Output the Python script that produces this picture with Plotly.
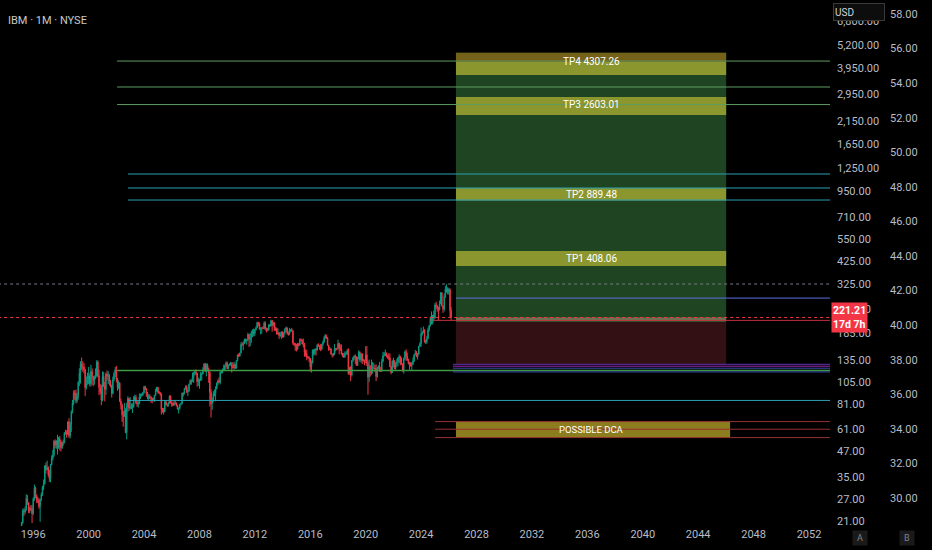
import numpy as np
import pandas as pd
import plotly.graph_objects as go

# IBM monthly candles, Jan 1995 .. Mar 2026 (split adjusted)
close = [
    18.2, 18.8, 20.6, 23.6, 23.3, 24.0, 27.2, 25.9, 23.6, 24.3, 24.2, 22.9,
    27.1, 30.7, 27.8, 27.0, 26.6, 24.8, 26.9, 28.5, 31.1, 32.3, 39.8, 37.9,
    39.0, 35.8, 34.3, 40.2, 43.4, 45.1, 52.8, 50.5, 53.0, 49.0, 54.6, 52.3,
    49.1, 52.1, 51.9, 57.9, 58.6, 57.4, 66.2, 56.3, 64.0, 74.4, 82.4, 92.2,
    91.6, 84.4, 88.7, 104.6, 116.0, 129.3, 124.9, 124.6, 121.0, 98.3, 102.9, 107.9,
    112.3, 102.8, 118.4, 111.5, 107.3, 109.6, 112.3, 132.0, 112.6, 98.5, 93.5, 85.0,
    112.0, 100.0, 96.2, 115.1, 111.8, 113.0, 105.2, 100.0, 91.7, 108.1, 115.6, 121.0,
    107.9, 98.1, 104.0, 83.8, 80.5, 72.0, 70.4, 75.4, 58.3, 79.0, 86.9, 77.5,
    78.2, 78.0, 78.4, 84.9, 88.0, 82.5, 81.3, 82.0, 88.3, 89.5, 90.5, 92.7,
    99.2, 96.5, 91.8, 88.2, 88.6, 88.2, 87.1, 84.7, 85.7, 89.8, 94.2, 98.6,
    93.4, 92.6, 91.4, 76.4, 75.6, 74.2, 83.5, 80.6, 80.2, 81.9, 88.9, 82.2,
    81.3, 80.2, 82.5, 82.3, 79.9, 76.8, 77.4, 81.0, 81.9, 92.3, 91.9, 97.2,
    99.2, 93.1, 94.3, 102.2, 106.6, 105.3, 110.7, 116.7, 117.8, 116.1, 105.2, 108.1,
    107.1, 113.9, 115.1, 120.7, 129.4, 118.5, 128.0, 121.7, 117.0, 93.0, 81.6, 84.2,
    91.7, 92.0, 96.9, 103.2, 106.3, 104.4, 117.9, 118.1, 119.6, 120.6, 126.4, 130.9,
    122.4, 127.2, 128.3, 129.0, 125.3, 123.5, 128.4, 123.1, 134.1, 143.6, 141.5, 146.8,
    162.0, 161.9, 163.1, 170.6, 168.9, 171.6, 181.9, 171.9, 174.9, 184.6, 188.0, 183.9,
    192.6, 196.7, 208.7, 207.1, 192.9, 195.6, 196.0, 195.0, 207.5, 194.5, 190.1, 191.6,
    203.1, 200.8, 213.3, 202.5, 208.0, 191.1, 195.0, 182.3, 185.2, 179.2, 179.7, 187.6,
    176.7, 185.2, 192.5, 196.5, 184.4, 181.3, 191.7, 192.3, 189.8, 164.4, 162.2, 160.4,
    153.3, 161.9, 160.5, 171.3, 169.7, 162.7, 162.0, 147.9, 145.0, 140.1, 139.4, 137.6,
    124.8, 131.0, 151.5, 145.9, 153.7, 151.8, 160.6, 158.9, 158.9, 153.7, 162.2, 166.0,
    174.5, 179.8, 174.1, 160.3, 152.6, 153.8, 144.7, 143.0, 145.1, 154.1, 153.9, 153.4,
    163.7, 155.8, 153.4, 145.0, 141.3, 139.7, 144.9, 146.5, 151.2, 115.4, 124.3, 113.7,
    134.4, 139.2, 141.1, 140.3, 127.0, 137.9, 148.2, 135.5, 145.4, 133.7, 134.5, 134.0,
    143.7, 130.2, 110.9, 125.6, 124.9, 120.8, 122.9, 123.3, 121.7, 111.7, 123.5, 125.9,
    119.1, 118.9, 133.3, 141.9, 143.7, 146.6, 141.0, 140.3, 138.9, 125.1, 117.1, 133.7,
    133.6, 122.5, 130.0, 132.2, 138.8, 141.2, 130.8, 128.5, 118.8, 138.3, 148.9, 140.9,
    134.7, 129.3, 131.1, 126.4, 128.6, 133.8, 144.2, 146.8, 140.3, 144.6, 158.6, 163.6,
    183.7, 185.0, 191.0, 166.2, 166.9, 173.0, 192.1, 202.1, 221.1, 208.9, 227.4, 219.8,
    255.7, 252.4, 248.7, 241.8, 259.1, 294.8, 253.2, 243.5, 282.2, 307.4, 308.6, 296.2,
    306.0, 240.0, 221.21,
]
high = [
    18.9, 19.2, 20.8, 24.2, 24.3, 24.8, 28.6, 28.3, 26.0, 24.8, 25.2, 25.3,
    27.6, 32.0, 31.2, 28.5, 27.8, 27.3, 27.2, 29.2, 31.5, 33.9, 40.0, 41.3,
    42.2, 39.5, 37.9, 40.6, 44.8, 47.8, 53.5, 54.0, 53.5, 56.9, 55.6, 56.1,
    53.6, 52.6, 53.9, 58.7, 60.3, 60.0, 66.6, 68.9, 66.0, 75.5, 85.1, 95.0,
    95.6, 96.0, 92.6, 105.6, 122.9, 133.2, 139.2, 133.6, 130.5, 122.1, 111.9, 117.0,
    124.8, 115.8, 128.0, 122.8, 112.6, 113.3, 122.8, 134.9, 134.6, 121.2, 102.7, 101.4,
    118.6, 117.8, 105.1, 117.0, 119.9, 118.6, 115.0, 107.4, 101.5, 111.8, 118.4, 124.7,
    126.4, 110.0, 106.7, 104.2, 86.4, 81.6, 74.9, 82.4, 77.3, 82.4, 88.9, 87.2,
    88.0, 81.9, 81.8, 88.9, 90.4, 90.4, 84.4, 84.1, 91.9, 91.7, 92.0, 93.6,
    100.4, 100.4, 97.8, 93.4, 90.9, 91.0, 89.0, 87.0, 87.5, 90.0, 97.2, 99.1,
    99.1, 94.6, 93.4, 91.8, 77.7, 77.7, 85.1, 84.2, 81.8, 83.3, 89.9, 89.9,
    84.2, 82.8, 84.5, 85.0, 82.7, 80.5, 78.0, 81.3, 82.5, 92.7, 93.0, 97.9,
    100.9, 100.9, 95.8, 102.9, 108.1, 108.0, 117.0, 117.4, 119.6, 121.5, 116.4, 110.5,
    108.1, 117.7, 117.0, 124.5, 130.2, 130.9, 130.0, 129.9, 124.0, 118.3, 96.6, 87.9,
    94.4, 96.0, 99.8, 104.6, 108.1, 110.6, 118.3, 120.1, 122.7, 128.2, 128.5, 132.9,
    132.9, 128.3, 130.5, 132.3, 132.1, 131.9, 132.5, 130.1, 135.2, 144.0, 145.9, 147.5,
    166.3, 166.3, 167.7, 173.5, 173.5, 172.7, 185.6, 182.9, 185.0, 190.0, 193.0, 194.9,
    193.9, 200.0, 210.7, 210.7, 208.6, 197.5, 198.3, 199.8, 211.8, 211.7, 197.0, 196.4,
    205.2, 205.2, 215.9, 214.9, 210.8, 209.0, 198.2, 196.7, 194.9, 186.9, 186.6, 187.8,
    188.2, 186.1, 195.6, 199.2, 196.9, 187.6, 196.4, 192.8, 196.0, 190.0, 164.8, 165.0,
    163.3, 164.9, 164.6, 173.8, 173.8, 172.6, 173.4, 164.8, 152.9, 152.2, 141.7, 141.1,
    135.0, 134.5, 152.9, 153.1, 153.8, 155.5, 163.0, 164.0, 160.0, 163.0, 163.2, 169.9,
    179.2, 182.8, 181.0, 176.4, 161.0, 157.0, 155.0, 145.7, 147.0, 162.5, 155.1, 156.0,
    171.1, 165.4, 162.1, 162.0, 147.0, 146.9, 149.3, 149.3, 153.4, 155.0, 125.0, 126.0,
    135.0, 140.0, 143.4, 144.4, 141.0, 140.4, 151.2, 149.6, 145.8, 146.0, 137.1, 136.0,
    158.8, 158.8, 134.3, 135.9, 127.4, 135.9, 132.2, 130.5, 128.0, 128.4, 124.9, 127.0,
    132.2, 124.5, 137.1, 148.7, 148.5, 152.8, 147.5, 144.1, 146.0, 146.0, 125.9, 134.9,
    138.8, 135.0, 131.6, 137.3, 139.8, 144.7, 141.9, 139.3, 130.5, 138.9, 150.5, 153.2,
    147.2, 137.4, 131.9, 131.6, 132.0, 139.5, 144.2, 151.9, 150.0, 146.6, 158.6, 166.3,
    196.9, 188.9, 199.2, 193.3, 171.1, 178.5, 196.8, 202.2, 224.2, 237.4, 227.4, 239.4,
    261.8, 265.7, 254.6, 250.3, 269.3, 296.2, 296.2, 253.2, 292.0, 319.4, 324.9, 314.0,
    312.0, 310.0, 251.0,
]
low = [
    17.6, 17.8, 18.5, 20.3, 22.2, 22.7, 23.6, 25.3, 23.0, 22.9, 23.5, 20.5,
    22.4, 26.5, 27.3, 25.8, 25.8, 24.2, 20.8, 26.4, 28.0, 30.0, 32.0, 36.3,
    37.8, 35.0, 33.0, 32.8, 40.2, 42.2, 44.1, 48.8, 48.4, 45.3, 48.4, 47.5,
    46.9, 48.3, 50.1, 51.5, 56.9, 54.9, 56.8, 55.0, 54.5, 58.8, 72.9, 80.1,
    85.4, 81.8, 82.4, 85.5, 100.1, 103.0, 120.3, 117.8, 115.5, 89.0, 96.1, 101.6,
    102.1, 99.8, 99.4, 101.3, 99.9, 101.6, 108.6, 111.6, 110.5, 90.0, 91.1, 80.1,
    83.8, 99.0, 83.8, 90.3, 106.5, 102.4, 100.8, 98.4, 87.5, 91.0, 105.8, 111.0,
    104.3, 94.7, 96.6, 83.1, 76.4, 66.1, 62.5, 71.5, 58.0, 54.0, 74.3, 75.0,
    76.3, 76.7, 73.2, 78.0, 84.1, 81.3, 78.7, 78.0, 81.0, 86.1, 88.8, 89.0,
    91.8, 95.6, 88.4, 85.9, 85.1, 86.2, 82.5, 81.9, 83.8, 83.3, 89.2, 93.7,
    91.6, 91.5, 89.4, 71.9, 73.4, 71.9, 74.1, 80.1, 78.6, 78.7, 82.0, 81.9,
    78.8, 79.2, 79.9, 80.9, 79.1, 76.1, 72.8, 76.1, 80.1, 80.9, 88.7, 90.7,
    95.9, 92.4, 89.1, 93.7, 101.7, 101.7, 105.0, 103.7, 113.6, 113.2, 99.3, 100.2,
    97.1, 106.0, 106.7, 114.8, 121.5, 117.7, 111.9, 118.3, 103.9, 79.0, 69.5, 76.0,
    83.0, 88.8, 83.8, 96.4, 100.9, 103.9, 102.0, 115.5, 115.9, 119.2, 119.4, 125.5,
    121.8, 121.4, 126.8, 126.8, 117.0, 122.7, 120.6, 122.3, 122.3, 133.6, 140.4, 140.6,
    146.3, 159.0, 151.7, 162.7, 165.6, 161.6, 167.8, 157.1, 158.8, 165.3, 176.1, 177.9,
    178.2, 190.6, 196.0, 199.9, 192.4, 181.9, 183.4, 193.2, 193.1, 190.6, 186.2, 188.5,
    190.4, 198.2, 199.5, 187.7, 199.3, 189.9, 189.5, 182.3, 181.3, 172.6, 176.9, 172.7,
    175.3, 175.3, 182.0, 187.0, 181.7, 179.3, 181.0, 186.3, 187.9, 161.1, 158.7, 150.5,
    149.5, 151.7, 158.4, 159.4, 168.8, 162.4, 156.7, 140.6, 140.6, 134.8, 137.6, 131.7,
    118.5, 116.9, 130.1, 142.5, 142.9, 142.5, 150.9, 158.2, 152.4, 149.8, 151.2, 159.3,
    165.3, 173.0, 173.0, 159.4, 150.3, 152.3, 144.2, 139.1, 141.2, 143.0, 149.6, 151.3,
    153.4, 144.4, 150.1, 144.0, 139.9, 139.4, 139.1, 143.3, 143.5, 114.1, 114.1, 105.9,
    111.7, 132.6, 135.3, 129.5, 126.8, 126.5, 136.3, 132.6, 131.3, 129.1, 133.0, 127.2,
    130.5, 126.1, 90.6, 104.5, 111.8, 114.1, 115.5, 122.6, 117.8, 105.9, 110.1, 121.6,
    118.0, 118.6, 118.2, 131.7, 141.2, 141.7, 139.4, 137.2, 135.0, 124.6, 114.6, 116.6,
    124.2, 121.3, 120.7, 124.9, 125.9, 130.4, 127.1, 128.3, 118.6, 115.5, 135.0, 133.9,
    133.8, 128.6, 120.6, 125.3, 120.2, 128.6, 132.4, 142.8, 139.6, 135.9, 143.9, 157.0,
    157.9, 179.5, 185.2, 165.7, 162.6, 163.5, 173.9, 188.4, 199.3, 204.1, 204.1, 213.4,
    218.2, 243.9, 236.4, 214.5, 240.0, 261.7, 251.4, 233.4, 237.6, 277.2, 294.5, 289.0,
    288.0, 223.0, 215.0,
]
first_open = 17.9

# axis ticks
price_ticks = [21, 27, 35, 47, 61, 81, 105, 135, 185, 245, 325, 425, 550, 710,
               950, 1250, 1650, 2150, 2950, 3950, 5200, 6800]
scale_b_ticks = [30, 32, 34, 36, 38, 40, 42, 44, 46, 48, 50, 52, 54, 56, 58]
year_ticks = [1996, 2000, 2004, 2008, 2012, 2016, 2020, 2024, 2028, 2032,
              2036, 2040, 2044, 2048, 2052]

# drawings on the chart (price levels and their start dates)
tp_names = ["TP1 408.06", "TP2 889.48", "TP3 2603.01", "TP4 4307.26"]
tp_text_price = [440, 920, 2603.01, 4307.26]
tp_band_low = [402, 857, 2308, 3665]
tp_band_high = [478, 991, 2841, 4261]
tp4_cap = [4261, 4735]
target_lines = [4307.26, 3190, 2603.01]
target_start = "2002-01-20"
cyan_lines = [1165, 991, 862, 84.7]
cyan_start = "2002-11-03"
base_line = 119.9
cluster_lines = [128.7, 125.9, 123.0, 117.8]
cluster_colors = ["#5e35b1", "#9c27b0", "#3949ab", "#3949ab"]
cluster_start = "2026-04-20"
box_start, box_end = "2026-07-08", "2046-01-08"
box_top, entry, stop = 4735, 210, 128.7
entry_band = [212, 221]
mid_line = 277
low_line = 214
low_line_start = "2024-11-10"
ath_line = 326
last_price = 221.21
dca_lines = [66.3, 60.7, 55.1]
dca_start = "2025-01-05"
dca_end = "2046-04-22"
far_right = "2056-01-01"

months = pd.date_range("1995-01-01", periods=len(close), freq="MS")
opens = [first_open] + close[:-1]

fig = go.Figure()
fig.add_trace(go.Candlestick(
    x=months, open=opens, high=high, low=low, close=close,
    increasing=dict(line=dict(color="#089981", width=1), fillcolor="#089981"),
    decreasing=dict(line=dict(color="#f23645", width=1), fillcolor="#f23645"),
    whiskerwidth=0, showlegend=False, hoverinfo="skip"))
# invisible trace so the second price scale shows up
fig.add_trace(go.Scatter(x=[months[0]] * len(scale_b_ticks), y=scale_b_ticks,
                         yaxis="y2", mode="markers", marker=dict(opacity=0),
                         showlegend=False, hoverinfo="skip"))

shapes = []


def rect(x0, x1, y0, y1, color):
    shapes.append(dict(type="rect", xref="x", yref="y", x0=x0, x1=x1, y0=y0, y1=y1,
                       fillcolor=color, line=dict(width=0)))


def hline(x0, x1, y, color, dash="solid", width=1):
    shapes.append(dict(type="line", xref="x", yref="y", x0=x0, x1=x1, y0=y, y1=y,
                       line=dict(color=color, width=width, dash=dash)))


# position box
rect(box_start, box_end, entry, box_top, "#1f4421")
rect(box_start, box_end, stop, entry, "#321014")
rect(box_start, box_end, entry_band[0], entry_band[1], "#6b7352")
for lo_, hi_ in zip(tp_band_low, tp_band_high):
    rect(box_start, box_end, lo_, hi_, "#8c962e")
rect(box_start, box_end, tp4_cap[0], tp4_cap[1], "#74621a")
rect(box_start, dca_end, dca_lines[2], dca_lines[0], "#8c7d1e")

hline("1990-01-01", far_right, ath_line, "#787b86", "dot")
hline("1990-01-01", far_right, last_price, "#f23645", "dot")
for p in target_lines:
    hline(target_start, far_right, p, "#5f9c61")
for p in cyan_lines:
    hline(cyan_start, far_right, p, "#2a9fb0")
hline(target_start, far_right, base_line, "#3f9a45", width=1.5)
for p, c in zip(cluster_lines, cluster_colors):
    hline(cluster_start, far_right, p, c)
hline(box_start, far_right, mid_line, "#5b6ee1")
hline(low_line_start, far_right, low_line, "#c2323c")
for p in dca_lines:
    hline(dca_start, far_right, p, "#9a3030")

ann = []
box_mid = pd.Timestamp(box_start) + (pd.Timestamp(box_end) - pd.Timestamp(box_start)) / 2
for name, p in zip(tp_names, tp_text_price):
    ann.append(dict(x=box_mid, y=np.log10(p), xref="x", yref="y", text=name,
                    showarrow=False, font=dict(color="white", size=10)))
ann.append(dict(x=box_mid, y=np.log10(dca_lines[1]), xref="x", yref="y",
                text="POSSIBLE DCA", showarrow=False, font=dict(color="white", size=9.5)))
ann.append(dict(x=0.006, y=1 - 12 / 526, xref="paper", yref="paper", xanchor="left",
                text="IBM · 1M · NYSE", showarrow=False,
                font=dict(color="#c8c8c8", size=11)))
# USD button sits on top of the highest price label
ann.append(dict(x=833 / 932, y=1 - 3 / 526, xref="paper", yref="paper",
                xanchor="left", yanchor="top", align="left", width=48, height=14,
                text="USD", showarrow=False, bgcolor="#0d0d0d",
                bordercolor="#3a3a3a", borderwidth=1, borderpad=1,
                font=dict(color="#d1d4dc", size=10)))
ann.append(dict(x=831 / 932, y=np.log10(last_price), xref="paper", yref="y",
                xanchor="left", yanchor="middle", align="left",
                text="<b>%.2f</b><br><b>17d 7h</b>" % last_price, showarrow=False,
                bgcolor="#f23645", borderpad=1,
                font=dict(color="white", size=10.5)))
# A / B scale buttons under the price axes
for cx, letter in zip([860, 907], ["A", "B"]):
    ann.append(dict(x=cx / 932, y=1 - 538 / 526, xref="paper", yref="paper",
                    xanchor="center", yanchor="middle", width=12, height=12,
                    text=letter, showarrow=False, bgcolor="#1a1a1a", borderpad=1,
                    font=dict(color="#80838c", size=9)))

fig.update_layout(
    width=932, height=550,
    margin=dict(l=0, r=0, t=0, b=24),
    paper_bgcolor="#000000", plot_bgcolor="#000000",
    font=dict(family="Roboto, Open Sans, sans-serif", color="#b8bcc6", size=11),
    shapes=shapes, annotations=ann, showlegend=False,
    xaxis=dict(type="date", domain=[0, 830 / 932],
               range=["1993-08-08", "2053-07-08"],
               tickvals=[pd.Timestamp(f"{y}-01-01") for y in year_ticks],
               ticktext=[str(y) for y in year_ticks],
               showgrid=False, zeroline=False, showline=False, ticks="",
               rangeslider=dict(visible=False), fixedrange=True),
    yaxis=dict(type="log", side="right", anchor="x",
               range=[np.log10(19.8), np.log10(8732)],
               tickvals=price_ticks, ticktext=[f"{v:,.2f}" for v in price_ticks],
               showgrid=False, zeroline=False, showline=False, ticks="",
               ticklabelstandoff=6),
    yaxis2=dict(overlaying="y", side="right", anchor="free", position=889 / 932,
                range=[28.38, 58.81], tickvals=scale_b_ticks,
                ticktext=[f"{v:.2f}" for v in scale_b_ticks],
                showgrid=False, zeroline=False, showline=False, ticks=""),
)

fig.write_html("out.html", config={"displayModeBar": False},
               post_script="document.body.style.margin='0';"
                           "document.body.style.background='#000';")
